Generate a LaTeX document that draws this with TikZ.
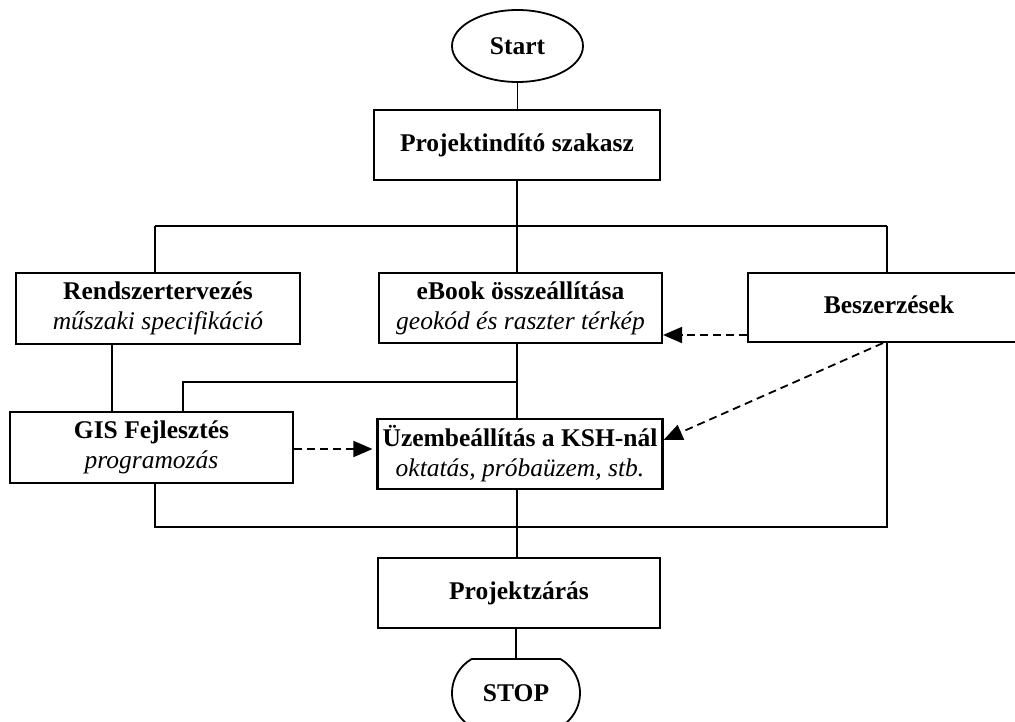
\documentclass[tikz,border=0pt]{standalone}
\usepackage{fontspec}
\setmainfont{Liberation Serif}
\usetikzlibrary{shapes.geometric,shapes.misc,arrows.meta}
\begin{document}
\begin{tikzpicture}[x=1pt,y=-1pt,
  font=\fontsize{25.5}{30}\selectfont,
  box/.style={draw, line width=2.1pt, inner sep=0pt, align=center},
  conn/.style={line width=1.8pt},
  dasharrow/.style={line width=1.8pt, dash pattern=on 8pt off 5pt,
    -{Triangle[length=19pt,width=16pt]}}]
\useasboundingbox (0,0) rectangle (1015,722);

% terminals and process boxes
\node[draw, ellipse, line width=1.8pt, minimum width=131, minimum height=72] (start) at (517.5,46) {\textbf{Start}};
\node[box, minimum width=286, minimum height=70] (proj) at (517,145) {\textbf{Projektindító szakasz}};
\node[box, minimum width=284, minimum height=71] (rend) at (158,308.5) {\textbf{Rendszertervezés}\\\textit{műszaki specifikáció}};
\node[box, minimum width=283, minimum height=70] (ebook) at (520.5,308) {\textbf{eBook összeállítása}\\\textit{geokód és raszter térkép}};
\node[box, minimum width=282, minimum height=69] (besz) at (889,307.5) {\raisebox{5pt}{\textbf{Beszerzések}}};
\node[box, minimum width=283, minimum height=71] (gis) at (151.5,447.5) {\textbf{GIS Fejlesztés}\\\textit{programozás}};
\node[box, minimum width=285, minimum height=70] (uzem) at (520,454) {\textbf{Üzembeállítás a KSH-nál}\\\textit{oktatás, próbaüzem, stb.}};
\node[box, minimum width=282, minimum height=70] (zaras) at (519,593) {\textbf{Projektzárás}};
\node[draw, rounded rectangle, rounded rectangle arc length=120, line width=1.8pt,
      minimum width=128, minimum height=68, inner sep=0pt] (stop) at (516,693) {\textbf{STOP}};

% junction points of the connector buses
\coordinate (bl) at (155,226);
\coordinate (br) at (887,226);
\coordinate (rg) at (112,0);
\coordinate (j) at (517,382);
\coordinate (gj) at (183,382);
\coordinate (bbl) at (155,527);
\coordinate (bbr) at (887,527);
\coordinate (ya) at (0,335);
\coordinate (yb) at (0,440);
\coordinate (yc) at (0,449);

% solid connectors
\draw[conn] (start.south) -- (start.south |- proj.north);
\draw[conn] (proj.south) -- (proj.south |- bl);
\draw[conn] (bl) -- (br);
\draw[conn] (bl) -- (bl |- rend.north);
\draw[conn] (proj.south |- bl) -- (proj.south |- ebook.north);
\draw[conn] (br) -- (br |- besz.north);
\draw[conn] (rend.south -| rg) -- (gis.north -| rg);
\draw[conn] (ebook.south -| j) -- (uzem.north -| j);
\draw[conn] (j) -- (gj) -- (gj |- gis.north);
\draw[conn] (gis.south -| bbl) -- (bbl) -- (bbr) -- (besz.south -| bbr);
\draw[conn] (uzem.south -| j) -- (zaras.north -| j);
\draw[conn] (zaras.south -| stop.north) -- (stop.north);

% dashed dependency arrows
\draw[dasharrow] (besz.west |- ya) -- (ebook.east |- ya);
\draw[dasharrow] ([xshift=-4pt]besz.south -| br) -- (uzem.east |- yb);
\draw[dasharrow] (gis.east |- yc) -- ([xshift=-4pt]uzem.west |- yc);
\end{tikzpicture}
\end{document}
